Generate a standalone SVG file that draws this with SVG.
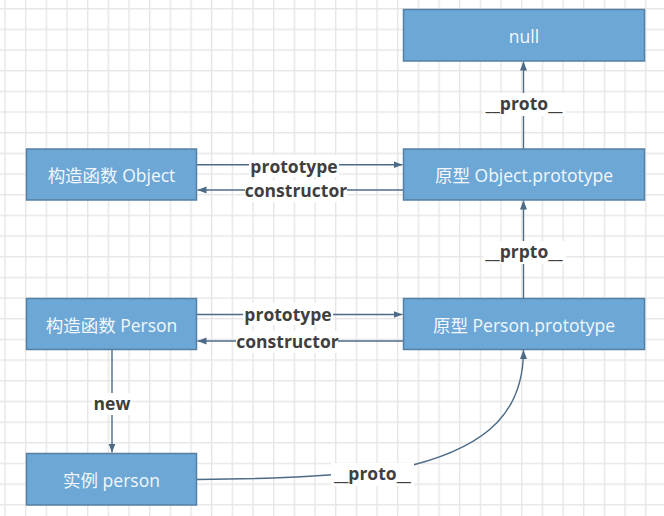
<svg xmlns="http://www.w3.org/2000/svg" width="664" height="516" viewBox="0 0 664 516">
<style>
.node rect{fill:#6ca7d6;stroke:#557fa3;stroke-width:1.5}
.node text{fill:#f3f7fb;font-family:"Open Sans","Noto Sans CJK SC",sans-serif;font-size:17.5px;text-anchor:middle}
.conn path{fill:none;stroke:#4d6b87;stroke-width:1.4}
.lbl rect{fill:#ffffff}
.lbl text{fill:#3f3f3f;font-family:"Open Sans","Noto Sans CJK SC",sans-serif;font-size:17.5px;font-weight:700;text-anchor:middle}
</style>
<defs>
<pattern id="grid" patternUnits="userSpaceOnUse" x="4.3" y="8" width="20.67" height="20.67">
<rect x="0" y="0" width="1.4" height="20.67" fill="#e6e6e6"/>
<rect x="0" y="0" width="20.67" height="1.4" fill="#e6e6e6"/>
</pattern>
<marker id="arr" markerUnits="userSpaceOnUse" markerWidth="10" markerHeight="8" refX="9" refY="3.5" orient="auto">
<path d="M0,0 L9,3.5 L0,7 z" fill="#4d6b87"/>
</marker>
</defs>
<rect width="664" height="516" fill="#ffffff"/>
<rect width="664" height="516" fill="url(#grid)"/>

<g id="connectors" class="conn">
<path d="M197,164.7 H402.5" marker-end="url(#arr)"/>
<path d="M403,190 H197.5" marker-end="url(#arr)"/>
<path d="M523.5,149 V61.5" marker-end="url(#arr)"/>
<path d="M523.5,298.5 V200.5" marker-end="url(#arr)"/>
<path d="M197,314.5 H402.5" marker-end="url(#arr)"/>
<path d="M403,341 H197.5" marker-end="url(#arr)"/>
<path d="M112,349.5 V452.5" marker-end="url(#arr)"/>
<path d="M197,479.5 C260,479 340,477.5 413,465 C490,445 523.5,410 523.5,350" marker-end="url(#arr)"/>
</g>

<g id="labels" class="lbl">
<g id="lbl-prototype-1"><rect x="249" y="155" width="90" height="22"/><text x="294" y="172.5">prototype</text></g>
<g id="lbl-constructor-1"><rect x="245" y="180" width="102" height="22"/><text x="296" y="196.5">constructor</text></g>
<g id="lbl-proto-null"><rect x="483" y="93" width="83" height="23"/><text x="524" y="110">__proto__</text></g>
<g id="lbl-prpto"><rect x="483" y="241" width="83" height="23"/><text x="524" y="258.3">__prpto__</text></g>
<g id="lbl-prototype-2"><rect x="243" y="303" width="90" height="22"/><text x="288" y="320.5">prototype</text></g>
<g id="lbl-constructor-2"><rect x="236" y="331" width="102" height="22"/><text x="287.5" y="348">constructor</text></g>
<g id="lbl-new"><rect x="92" y="393" width="40" height="22"/><text x="112" y="410">new</text></g>
<g id="lbl-proto-instance"><rect x="331" y="463" width="83" height="23"/><text x="372.5" y="480">__proto__</text></g>
</g>

<g id="node-null" class="node"><rect x="403.5" y="9.5" width="241" height="51.5"/><text x="524" y="42.7">null</text></g>
<g id="node-object-prototype" class="node"><rect x="403.5" y="149" width="241" height="51"/><text x="524" y="182">原型 Object.prototype</text></g>
<g id="node-person-prototype" class="node"><rect x="403.5" y="298.5" width="241" height="51"/><text x="524" y="331.5">原型 Person.prototype</text></g>
<g id="node-ctor-object" class="node"><rect x="26.5" y="149" width="170" height="51"/><text x="111.5" y="182">构造函数 Object</text></g>
<g id="node-ctor-person" class="node"><rect x="26.5" y="298.5" width="170" height="51"/><text x="111.5" y="331.5">构造函数 Person</text></g>
<g id="node-instance" class="node"><rect x="26.5" y="453.5" width="170" height="51.5"/><text x="111.5" y="486.5">实例 person</text></g>
</svg>
